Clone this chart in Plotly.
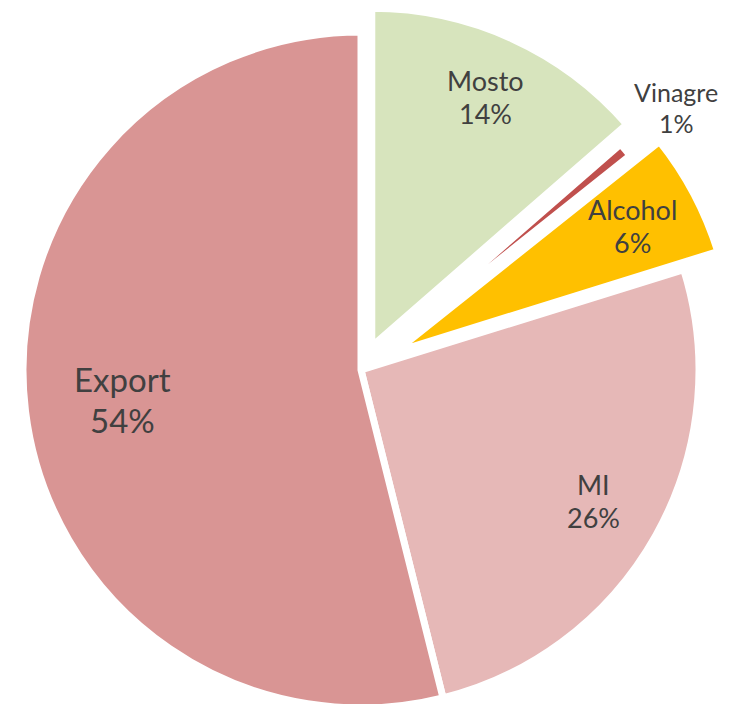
import math
import plotly.graph_objects as go

# ---- data ----
labels = ["Mosto", "Vinagre", "Alcohol", "MI", "Export"]
values = [13.6, 0.7, 5.9, 25.9, 53.9]

# ---- styling ----
colors = ["#D7E4BD", "#C0504D", "#FFC000", "#E6B8B7", "#D99594"]
pulls = [0.077, 0.018, 0.114, 0.0, 0.0]          # fraction of radius
label_radius = [0.81, 1.195, 0.795, 0.79, 0.71]  # label distance, fraction of radius
font_sizes = [27, 25, 27, 27, 33]
text_color = "#404040"
font_family = "Lato"
border_w = 7

W, H = 729, 720
CX, CY = 353.0, 362.0   # pie centre in figure pixels (from top-left)
R = 338.0               # pie radius in pixels

total = sum(values)
fig = go.Figure()

cum = 0.0
mids = []
for v in values:
    mids.append((cum + v / 2) / total * 360.0)
    cum += v

for i, lab in enumerate(labels):
    a = math.radians(mids[i])
    dx, dy = math.sin(a), -math.cos(a)
    cx = CX + pulls[i] * R * dx
    cy = CY + pulls[i] * R * dy
    x0, x1 = (cx - R) / W, (cx + R) / W
    y0, y1 = 1 - (cy + R) / H, 1 - (cy - R) / H
    slice_colors = [colors[j] if j == i else "rgba(0,0,0,0)" for j in range(len(labels))]
    line_widths = [border_w if j == i else 0 for j in range(len(labels))]
    fig.add_trace(
        go.Pie(
            labels=labels,
            values=values,
            sort=False,
            direction="clockwise",
            rotation=0,
            marker=dict(colors=slice_colors, line=dict(color="white", width=line_widths)),
            textinfo="none",
            hoverinfo="label+percent",
            showlegend=False,
            domain=dict(x=[max(0, x0), min(1, x1)], y=[max(0, y0), min(1, y1)]),
        )
    )

    # label (name + percentage)
    lx = cx + label_radius[i] * R * dx
    ly = cy + label_radius[i] * R * dy
    pct = round(values[i] / total * 100)
    gap = font_sizes[i] * 1.23
    for text, off in ((lab, -gap / 2), (f"{pct}%", gap / 2)):
        fig.add_annotation(
            x=lx / W, y=1 - (ly + off) / H,
            xref="paper", yref="paper",
            text=text, showarrow=False,
            xanchor="center", yanchor="middle",
            borderpad=0,
            font=dict(family=font_family, size=font_sizes[i], color=text_color),
        )

fig.update_layout(
    width=W,
    height=H,
    margin=dict(l=0, r=0, t=0, b=0),
    paper_bgcolor="white",
    plot_bgcolor="white",
    font=dict(family=font_family, color=text_color),
    showlegend=False,
)

fig.write_html("out.html")
